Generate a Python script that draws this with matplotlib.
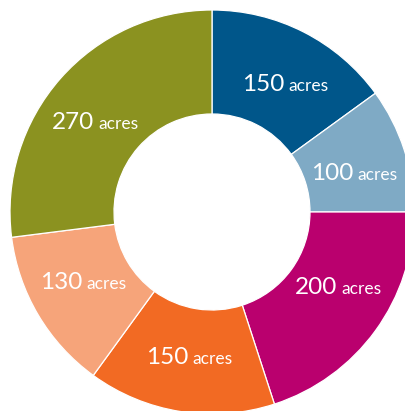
import numpy as np
import matplotlib.pyplot as plt
from matplotlib.offsetbox import TextArea, HPacker, AnnotationBbox

values = [150, 100, 200, 150, 130, 270]
units = 'acres'
colors = ['#00568a', '#7faac5', '#ba006e', '#f26a23', '#f6a47a', '#8b9220']
# small angular nudges (degrees) so labels sit nicely in each segment
nudge = [-3, -3, 5, 0, -2, 4]

W, H = 406, 411
cx, cy = 212, H - 212
r_out, r_in = 202, 98

fig = plt.figure(figsize=(W / 100, H / 100), dpi=100)
ax = fig.add_axes([0, 0, 1, 1])

wedges, _ = ax.pie(values, colors=colors, startangle=90, counterclock=False,
                   center=(cx, cy), radius=r_out, frame=True,
                   wedgeprops=dict(width=r_out - r_in, edgecolor='white', linewidth=0.9))
ax.set_xlim(0, W)
ax.set_ylim(0, H)
ax.set_aspect('equal')
ax.axis('off')

r_lab = 147
for w, v, dn in zip(wedges, values, nudge):
    mid = np.deg2rad((w.theta1 + w.theta2) / 2 + dn)
    x = cx + r_lab * np.cos(mid)
    y = cy + r_lab * np.sin(mid)
    num = TextArea(str(v), textprops=dict(color='white', fontsize=17.5,
                                          family='Lato', weight='normal'))
    unit = TextArea(units, textprops=dict(color='white', fontsize=12.5,
                                          family='Lato', weight='normal'))
    box = HPacker(children=[num, unit], align='baseline', pad=0, sep=3)
    ab = AnnotationBbox(box, (x, y), frameon=False, box_alignment=(0.5, 0.5))
    ax.add_artist(ab)

fig.savefig('out.png', dpi=100)
